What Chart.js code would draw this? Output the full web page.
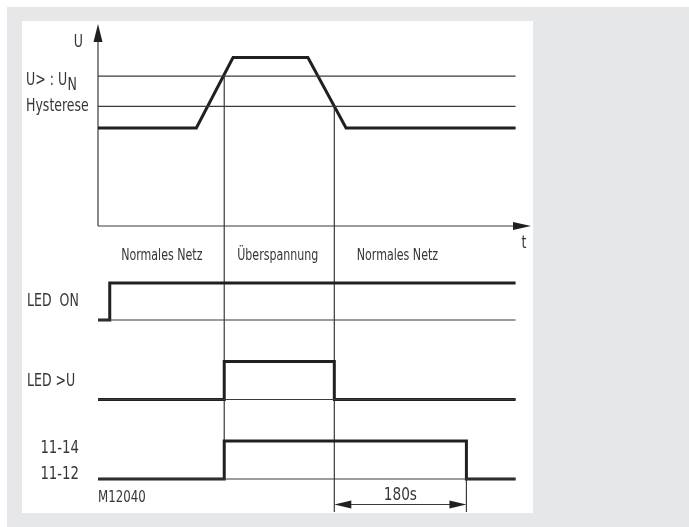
<!DOCTYPE html>
<html><head><meta charset="utf-8">
<script src="https://cdn.jsdelivr.net/npm/chart.js@4.4.1/dist/chart.umd.min.js"></script>
<style>
html,body{margin:0;padding:0;background:#fff;width:689px;height:527px;overflow:hidden;}
#bg{position:absolute;left:7px;top:7px;width:682px;height:520px;background:#e6e7e9;}
#panel{position:absolute;left:22px;top:21px;width:511px;height:492px;background:#fff;}
canvas{position:absolute;left:0;top:0;}
</style></head><body>
<div id="bg"></div><div id="panel"></div>
<canvas id="c" width="689" height="527"></canvas>
<script>
// ---- data (time in s, voltage in % of U_N, logic states 0/1) ----
const uTime   = [0, 134, 184, 286, 338, 569];
const uValue  = [100, 100, 172, 172, 100, 100];
const thresholdLevels = [153, 122];            // U> , Hysterese
const ledOnTime  = [0, 16, 16, 569];
const ledOnState = [0, 0, 1, 1];
const ledOvTime  = [0, 172, 172, 322, 322, 569];
const ledOvState = [0, 0, 1, 1, 0, 0];
const relayTime  = [0, 172, 172, 502, 502, 569];
const relayState = [0, 0, 1, 1, 0, 0];
const markerTimes = [172, 322, 502];
const phaseLabels = ['Normales Netz', 'Überspannung', 'Normales Netz'];
const phaseLabelTime = [87, 245, 408];
const delayLabel = '180s';
const timeAxisEnd = 590;
const traceEnd = 569;

// ---- layout ----
const PAD = {left: 98, right: 158, top: 24, bottom: 15};
const T = PAD.top, B = 527 - PAD.bottom;
function rangeFrom(p0, v0, p1, v1) {
  const ppu = (p0 - p1) / (v1 - v0);
  return {min: v0 - (B - p0) / ppu, max: v0 + (p0 - T) / ppu};
}
const FONT = '"Liberation Sans Narrow","Arial Narrow","DejaVu Sans Condensed",sans-serif';
const SQ = 0.82;   // horizontal squeeze to imitate a condensed face
const THICK = '#231f20', THIN = '#3a3a3a', TXT = '#363636';

const pts = (ts, vs) => ts.map((t, i) => ({x: t, y: vs[i]}));
function ds(data, axis, thick) {
  return {data, yAxisID: axis, borderColor: thick ? THICK : THIN, borderWidth: thick ? 3 : 1.2,
    pointRadius: 0, fill: false, tension: 0, clip: false,
    borderJoinStyle: 'miter', borderCapStyle: 'butt'};
}
const datasets = [
  ds(pts([0, traceEnd], [thresholdLevels[0], thresholdLevels[0]]), 'yU', false),
  ds(pts([0, traceEnd], [thresholdLevels[1], thresholdLevels[1]]), 'yU', false),
  ds(pts(uTime, uValue), 'yU', true),
  ds(pts([0, traceEnd], [0, 0]), 'yOn', false),
  ds(pts(ledOnTime, ledOnState), 'yOn', true),
  ds(pts([0, traceEnd], [0, 0]), 'yOv', false),
  ds(pts(ledOvTime, ledOvState), 'yOv', true),
  ds(pts([0, traceEnd], [0, 0]), 'yRel', false),
  ds(pts(relayTime, relayState), 'yRel', true),
];

function tri(ctx, a, b, c) {
  ctx.beginPath(); ctx.moveTo(a[0], a[1]); ctx.lineTo(b[0], b[1]); ctx.lineTo(c[0], c[1]); ctx.closePath(); ctx.fill();
}
function txt(ctx, s, x, y, align) {
  ctx.save(); ctx.translate(x, y); ctx.scale(SQ, 1);
  ctx.textAlign = align; ctx.fillText(s, 0, 0); ctx.restore();
}

const deco = {
  id: 'deco',
  beforeDatasetsDraw(chart) {
    const {ctx, scales: s} = chart;
    const X = v => s.x.getPixelForValue(v);
    ctx.save();
    ctx.strokeStyle = THIN; ctx.fillStyle = THICK; ctx.lineWidth = 1.2;
    const x0 = X(0), y0 = s.yU.getPixelForValue(0);
    // y axis
    ctx.beginPath(); ctx.moveTo(x0, y0); ctx.lineTo(x0, T + 12); ctx.stroke();
    tri(ctx, [x0, T], [x0 - 4.5, T + 18], [x0 + 4.5, T + 18]);
    // time axis
    const xe = X(timeAxisEnd);
    ctx.beginPath(); ctx.moveTo(x0, y0); ctx.lineTo(xe - 12, y0); ctx.stroke();
    tri(ctx, [xe, y0], [xe - 18, y0 - 4], [xe - 18, y0 + 4]);
    // marker verticals
    const v1 = X(markerTimes[0]), v2 = X(markerTimes[1]), v3 = X(markerTimes[2]);
    ctx.beginPath();
    ctx.moveTo(v1, s.yU.getPixelForValue(thresholdLevels[0])); ctx.lineTo(v1, s.yRel.getPixelForValue(0));
    ctx.moveTo(v2, s.yU.getPixelForValue(thresholdLevels[1])); ctx.lineTo(v2, B);
    ctx.moveTo(v3, s.yRel.getPixelForValue(1)); ctx.lineTo(v3, B);
    ctx.stroke();
    // dimension line
    const yd = s.yRel.getPixelForValue(0) + 25.5;
    ctx.beginPath(); ctx.moveTo(v2 + 10, yd); ctx.lineTo(v3 - 10, yd); ctx.stroke();
    tri(ctx, [v2, yd], [v2 + 17, yd - 4], [v2 + 17, yd + 4]);
    tri(ctx, [v3, yd], [v3 - 17, yd - 4], [v3 - 17, yd + 4]);
    ctx.restore();
  },
  afterDraw(chart) {
    const {ctx, scales: s} = chart;
    const X = v => s.x.getPixelForValue(v);
    ctx.save();
    ctx.fillStyle = TXT;
    ctx.textBaseline = 'alphabetic';
    const f = px => { ctx.font = px + 'px ' + FONT; };
    // upper labels
    f(17);
    txt(ctx, 'U', X(0) - 15, 46.5, 'right');
    const yT = s.yU.getPixelForValue(thresholdLevels[0]);
    txt(ctx, 'U> : U', 26, yT + 9, 'left');
    const w = ctx.measureText('U> : U').width * SQ;
    txt(ctx, 'N', 26 + w + 0.5, yT + 14, 'left');
    txt(ctx, 'Hysterese', 26, s.yU.getPixelForValue(thresholdLevels[1]) + 5, 'left');
    txt(ctx, 't', X(timeAxisEnd) - 7, s.yU.getPixelForValue(0) + 22, 'center');
    // phase labels
    f(15);
    phaseLabels.forEach((l, i) => txt(ctx, l, X(phaseLabelTime[i]), s.yU.getPixelForValue(0) + 34, 'center'));
    // row labels
    f(17);
    txt(ctx, 'LED  ON', 27, s.yOn.getPixelForValue(0.5) + 4, 'left');
    txt(ctx, 'LED >U', 27, s.yOv.getPixelForValue(0.5) + 5, 'left');
    f(18);
    txt(ctx, '11-14', 79, s.yRel.getPixelForValue(1) + 12, 'right');
    txt(ctx, '11-12', 79, s.yRel.getPixelForValue(0), 'right');
    // footer
    f(16);
    txt(ctx, 'M12040', X(0), s.yRel.getPixelForValue(0) + 23, 'left');
    f(18.5);
    txt(ctx, delayLabel, (X(markerTimes[1]) + X(markerTimes[2])) / 2, s.yRel.getPixelForValue(0) + 21, 'center');
    ctx.restore();
  }
};

const lin = r => Object.assign({type: 'linear', display: false}, r);
new Chart(document.getElementById('c'), {
  type: 'line',
  data: {datasets},
  options: {
    responsive: false, animation: false, events: [],
    layout: {padding: PAD},
    plugins: {legend: {display: false}, tooltip: {enabled: false}},
    scales: {
      x: lin({min: 0, max: timeAxisEnd}),
      yU: lin(Object.assign({position: 'left'}, rangeFrom(226, 0, 128, 100))),
      yOn: lin(rangeFrom(320, 0, 283, 1)),
      yOv: lin(rangeFrom(399.5, 0, 361.5, 1)),
      yRel: lin(rangeFrom(479, 0, 441, 1)),
    }
  },
  plugins: [deco]
});
</script></body></html>
